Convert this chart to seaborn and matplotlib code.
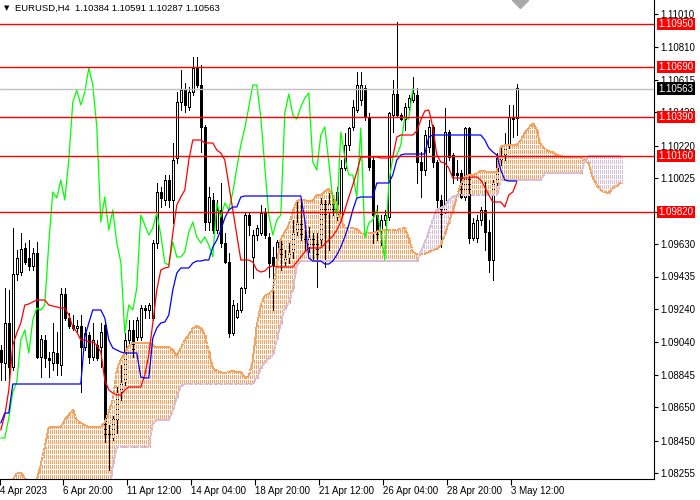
import numpy as np
import matplotlib
matplotlib.use("Agg")
import matplotlib.pyplot as plt
import matplotlib.transforms as mtransforms
from matplotlib.collections import LineCollection
import seaborn as sns

# ---------------- data (EURUSD H4) ----------------
opens = [1.08994,1.08916,1.09156,1.08892,1.09450,1.09462,1.09606,1.09546,1.09498,1.09576,
         1.08952,1.09054,1.08946,1.08916,1.08976,1.08904,1.09330,1.09186,1.09144,1.09126,
         1.09138,1.09012,1.09084,1.08952,1.09024,1.09012,1.09144,1.08514,1.08466,1.08574,
         1.08742,1.08802,1.09054,1.09114,1.09072,1.09072,1.09246,1.09234,1.09186,1.09636,
         1.09942,1.09894,1.10014,1.09894,1.10146,1.10482,1.10554,1.10452,1.10542,1.10686,
         1.10584,1.10332,1.09762,1.09894,1.09714,1.09834,1.09636,1.09522,1.09096,1.09192,
         1.09234,1.09366,1.09804,1.09552,1.09684,1.09696,1.09816,1.09672,1.09552,1.09546,
         1.09642,1.09522,1.09546,1.09582,1.09702,1.09762,1.09672,1.09612,1.09684,1.09642,
         1.09654,1.09876,1.09816,1.09882,1.09792,1.09792,1.10086,1.10224,1.10332,1.10434,
         1.10494,1.10566,1.10392,1.10134,1.09804,1.09714,1.09774,1.09792,1.10404,1.10530,
         1.10404,1.10380,1.10452,1.10494,1.10524,1.10122,1.10074,1.10212,1.10332,1.10122,
         1.09894,1.09822,1.10302,1.10164,1.10056,1.10056,1.09912,1.10326,1.09666,1.09666,
         1.09774,1.09834,1.09702,1.09534,1.09996,1.10134,1.10164,1.10224,1.10392,1.10384]
highs = [1.09024,1.09366,1.09354,1.09726,1.09594,1.09696,1.09636,1.09654,1.09606,1.09642,
         1.09084,1.09084,1.08982,1.09156,1.09102,1.09366,1.09366,1.09216,1.09204,1.09174,
         1.09204,1.09132,1.09102,1.09156,1.09054,1.09156,1.09162,1.08544,1.08598,1.08772,
         1.08904,1.09096,1.09174,1.09174,1.09192,1.09264,1.09264,1.09276,1.09654,1.09996,
         1.09972,1.10044,1.10044,1.10236,1.10542,1.10674,1.10596,1.10572,1.10752,1.10752,
         1.10704,1.10344,1.09972,1.09936,1.09894,1.09996,1.09696,1.09576,1.09294,1.09276,
         1.09372,1.09822,1.09822,1.09714,1.09744,1.09864,1.09846,1.09696,1.09612,1.09654,
         1.09672,1.09594,1.09636,1.09774,1.09882,1.09882,1.09714,1.09732,1.09696,1.09696,
         1.09906,1.09894,1.09936,1.09906,1.09972,1.10134,1.10296,1.10332,1.10494,1.10662,
         1.10662,1.10584,1.10416,1.10152,1.09864,1.09804,1.09834,1.10422,1.10614,1.10962,
         1.10416,1.10476,1.10524,1.10632,1.10566,1.10182,1.10314,1.10374,1.10344,1.10134,
         1.09924,1.10446,1.10314,1.10176,1.10134,1.10074,1.10332,1.10332,1.09786,1.09804,
         1.09852,1.10002,1.09774,1.10014,1.10176,1.10212,1.10296,1.10464,1.10464,1.10591]
lows = [1.08814,1.08814,1.08814,1.08874,1.09414,1.09444,1.09510,1.09474,1.09474,1.08946,
        1.08832,1.08892,1.08832,1.08874,1.08844,1.08844,1.09174,1.09126,1.09114,1.09102,
        1.08742,1.08994,1.08916,1.08934,1.08934,1.08892,1.08442,1.08274,1.08454,1.08496,
        1.08694,1.08784,1.09036,1.08952,1.09054,1.09054,1.09186,1.09186,1.09174,1.09606,
        1.09852,1.09864,1.09852,1.09756,1.10116,1.10434,1.10422,1.10434,1.10524,1.10572,
        1.10182,1.09714,1.09714,1.09696,1.09696,1.09612,1.09516,1.09072,1.09084,1.09186,
        1.09222,1.09336,1.09684,1.09426,1.09654,1.09684,1.09666,1.09432,1.09234,1.09522,
        1.09474,1.09504,1.09516,1.09546,1.09684,1.09654,1.09594,1.09582,1.09534,1.09372,
        1.09624,1.09492,1.09594,1.09804,1.09774,1.09774,1.10074,1.10194,1.10314,1.10422,
        1.10464,1.10374,1.10074,1.09636,1.09654,1.09624,1.09744,1.09774,1.10302,1.10392,
        1.10374,1.10314,1.10434,1.10482,1.09996,1.09912,1.10044,1.10182,1.10092,1.09852,
        1.09612,1.09816,1.10134,1.09996,1.10014,1.09906,1.09894,1.09636,1.09654,1.09642,
        1.09744,1.09594,1.09462,1.09414,1.09984,1.10104,1.10134,1.10206,1.10272,1.10287]
closes = [1.08922,1.09156,1.08892,1.09450,1.09546,1.09600,1.09522,1.09498,1.09576,1.08952,
          1.09060,1.08946,1.08934,1.08982,1.08916,1.09330,1.09186,1.09138,1.09126,1.09138,
          1.09012,1.09096,1.08952,1.09054,1.08946,1.09102,1.08466,1.08466,1.08586,1.08742,
          1.08802,1.09054,1.09114,1.08976,1.09174,1.09246,1.09234,1.09264,1.09636,1.09942,
          1.09906,1.10014,1.09894,1.10134,1.10482,1.10554,1.10464,1.10542,1.10686,1.10584,
          1.10332,1.09762,1.09912,1.09714,1.09834,1.09636,1.09522,1.09096,1.09264,1.09234,
          1.09366,1.09804,1.09744,1.09684,1.09726,1.09816,1.09684,1.09516,1.09504,1.09642,
          1.09552,1.09552,1.09582,1.09702,1.09762,1.09672,1.09636,1.09672,1.09624,1.09552,
          1.09876,1.09792,1.09876,1.09834,1.09942,1.10086,1.10224,1.10326,1.10452,1.10584,
          1.10584,1.10392,1.10092,1.09804,1.09684,1.09774,1.09804,1.10416,1.10530,1.10404,
          1.10380,1.10452,1.10506,1.10536,1.10122,1.10074,1.10284,1.10332,1.10122,1.09894,
          1.09804,1.10302,1.10152,1.10044,1.10044,1.09912,1.10326,1.09666,1.09756,1.09774,
          1.09834,1.09702,1.09534,1.10002,1.10146,1.10164,1.10224,1.10392,1.10380,1.10563]

tenkan = [1.08514,1.08604,1.08754,1.09024,1.09096,1.09156,1.09264,1.09270,1.09282,1.09294,
          1.09294,1.09294,1.09264,1.09258,1.09252,1.09246,1.09246,1.09204,1.09132,1.09102,
          1.09054,1.09054,1.09042,1.09042,1.09024,1.08982,1.08814,1.08754,1.08736,1.08724,
          1.08724,1.08754,1.08772,1.08772,1.08772,1.08772,1.08844,1.08964,1.09156,1.09354,
          1.09474,1.09486,1.09492,1.09696,1.09864,1.09912,1.09954,1.10134,1.10254,1.10254,
          1.10254,1.10236,1.10236,1.10236,1.10194,1.10176,1.10134,1.09984,1.09834,1.09684,
          1.09534,1.09534,1.09534,1.09522,1.09474,1.09462,1.09468,1.09492,1.09498,1.09492,
          1.09492,1.09492,1.09492,1.09492,1.09522,1.09552,1.09582,1.09606,1.09606,1.09606,
          1.09606,1.09630,1.09654,1.09678,1.09714,1.09762,1.09834,1.09912,1.09984,1.10062,
          1.10152,1.10152,1.10152,1.10152,1.10152,1.10146,1.10146,1.10146,1.10152,1.10272,
          1.10284,1.10284,1.10284,1.10284,1.10308,1.10374,1.10428,1.10434,1.10332,1.10164,
          1.10122,1.10116,1.10086,1.10026,1.10026,1.10026,1.10026,1.10026,1.10032,1.10032,
          1.10014,1.09972,1.09924,1.09882,1.09882,1.09882,1.09852,1.09924,1.09942,1.10002]
kijun = [1.08556,1.08616,1.08616,1.08790,1.08790,1.08790,1.08790,1.08790,1.08790,1.08790,
         1.08790,1.08790,1.08790,1.08790,1.08790,1.08790,1.08790,1.08790,1.08790,1.08790,
         1.08790,1.09072,1.09156,1.09234,1.09234,1.09234,1.09186,1.09054,1.09006,1.08994,
         1.08982,1.08976,1.08976,1.08976,1.08976,1.08832,1.08826,1.08826,1.09066,1.09126,
         1.09156,1.09162,1.09204,1.09354,1.09456,1.09486,1.09486,1.09486,1.09516,1.09528,
         1.09528,1.09534,1.09534,1.09612,1.09654,1.09714,1.09786,1.09834,1.09852,1.09852,
         1.09912,1.09918,1.09918,1.09918,1.09918,1.09918,1.09918,1.09918,1.09918,1.09918,
         1.09918,1.09918,1.09918,1.09918,1.09918,1.09918,1.09774,1.09546,1.09528,1.09528,
         1.09528,1.09510,1.09510,1.09528,1.09564,1.09612,1.09672,1.09744,1.09834,1.09906,
         1.09912,1.09912,1.09912,1.09912,1.09996,1.09996,1.09996,1.09996,1.10044,1.10134,
         1.10164,1.10170,1.10170,1.10170,1.10170,1.10170,1.10170,1.10272,1.10284,1.10284,
         1.10284,1.10284,1.10284,1.10284,1.10284,1.10284,1.10284,1.10284,1.10284,1.10284,
         1.10284,1.10254,1.10206,1.10182,1.10164,1.10074,1.10014,1.10008,1.10008,1.10008]
span_a = [1.08154,1.08166,1.08184,1.08214,1.08256,1.08256,1.08226,1.08184,1.08172,1.08214,
          1.08304,1.08412,1.08532,1.08532,1.08532,1.08532,1.08574,1.08604,1.08634,1.08574,
          1.08556,1.08544,1.08532,1.08532,1.08532,1.08532,1.08562,1.08622,1.08694,1.08874,
          1.08934,1.08976,1.09018,1.09036,1.09036,1.09036,1.09036,1.09036,1.09024,1.09012,
          1.09012,1.09012,1.09012,1.08994,1.08958,1.09006,1.09054,1.09084,1.09126,1.09138,
          1.09126,1.09084,1.08982,1.08886,1.08868,1.08862,1.08856,1.08862,1.08868,1.08862,
          1.08862,1.08826,1.08838,1.08934,1.09144,1.09264,1.09318,1.09330,1.09354,1.09504,
          1.09660,1.09702,1.09744,1.09822,1.09888,1.09894,1.09894,1.09888,1.09888,1.09924,
          1.09924,1.09948,1.09960,1.09924,1.09864,1.09786,1.09726,1.09726,1.09726,1.09720,
          1.09696,1.09690,1.09696,1.09696,1.09702,1.09714,1.09714,1.09714,1.09714,1.09714,
          1.09720,1.09726,1.09666,1.09582,1.09570,1.09570,1.09570,1.09582,1.09594,1.09600,
          1.09624,1.09684,1.09756,1.09828,1.09912,1.09984,1.10032,1.10044,1.10044,1.10050,
          1.10068,1.10068,1.10062,1.10062,1.10062,1.10212,1.10224,1.10224,1.10224,1.10224,
          1.10254,1.10296,1.10326,1.10356,1.10314,1.10224,1.10200,1.10188,1.10182,1.10164,
          1.10158,1.10152,1.10152,1.10152,1.10152,1.10152,1.10134,1.10116,1.10026,1.09984,
          1.09954,1.09942,1.09936,1.09966,1.09978,1.09996]
span_b = [1.08094,1.08094,1.08094,1.08094,1.08094,1.08094,1.08094,1.08094,1.08094,1.08094,
          1.08094,1.08094,1.08094,1.08094,1.08094,1.08094,1.08094,1.08094,1.08094,1.08094,
          1.08094,1.08094,1.08094,1.08094,1.08094,1.08094,1.08094,1.08094,1.08304,1.08412,
          1.08412,1.08412,1.08412,1.08412,1.08412,1.08412,1.08412,1.08412,1.08556,1.08574,
          1.08574,1.08574,1.08574,1.08634,1.08712,1.08778,1.08790,1.08790,1.08790,1.08790,
          1.08790,1.08790,1.08790,1.08790,1.08790,1.08790,1.08790,1.08790,1.08790,1.08790,
          1.08790,1.08790,1.08790,1.08790,1.08826,1.08886,1.08922,1.08946,1.08964,1.09054,
          1.09156,1.09246,1.09276,1.09354,1.09504,1.09528,1.09528,1.09528,1.09528,1.09528,
          1.09528,1.09528,1.09528,1.09528,1.09528,1.09528,1.09528,1.09528,1.09528,1.09528,
          1.09528,1.09528,1.09528,1.09528,1.09528,1.09528,1.09528,1.09528,1.09528,1.09528,
          1.09528,1.09528,1.09528,1.09528,1.09528,1.09582,1.09642,1.09702,1.09774,1.09834,
          1.09846,1.09858,1.09894,1.09912,1.09924,1.09924,1.09924,1.09924,1.09924,1.09924,
          1.09924,1.09924,1.09924,1.09924,1.09924,1.10014,1.10014,1.10014,1.10014,1.10014,
          1.10014,1.10014,1.10014,1.10014,1.10014,1.10014,1.10056,1.10056,1.10056,1.10056,
          1.10056,1.10056,1.10056,1.10056,1.10056,1.10056,1.10122,1.10158,1.10158,1.10158,
          1.10158,1.10158,1.10158,1.10158,1.10158,1.10158]

level_prices = [1.10950, 1.10690, 1.10390, 1.10160, 1.09820]
bid_price = 1.10563
y_ticks = [1.11010, 1.10810, 1.10615, 1.10420, 1.10220, 1.10025, 1.09825, 1.09630,
           1.09435, 1.09240, 1.09040, 1.08845, 1.08650, 1.08450, 1.08255]
y_tick_labels = ["1.11010", "1.10810", "1.10615", "1.10420", "1.10220", "1.10025", "",
                 "1.09630", "1.09435", "1.09240", "1.09040", "1.08845", "1.08650",
                 "1.08450", "1.08255"]
x_tick_bars = [-0.1, 15.5, 31.5, 47.5, 63.5, 79.5, 95.5, 111.5, 127.5]
x_tick_labels = ["4 Apr 2023", "6 Apr 20:00", "11 Apr 12:00", "14 Apr 04:00",
                 "18 Apr 20:00", "21 Apr 12:00", "26 Apr 04:00", "28 Apr 20:00",
                 "3 May 12:00"]
title = "EURUSD,H4  1.10384 1.10591 1.10287 1.10563"
chikou_shift = 26

# ---------------- style ----------------
sns.set_style("white")
plt.rcParams['font.family'] = ['Liberation Sans', 'DejaVu Sans']

W, H = 700, 500
fig = plt.figure(figsize=(7, 5), dpi=100)
fig.patch.set_facecolor('white')
ax = fig.add_axes([0, 21 / H, 654 / W, 479 / H])
ax.set_facecolor('white')

YMIN, YMAX = 1.08220, 1.11094
XMIN, XMAX = -0.2, 163.3
ax.set_xlim(XMIN, XMAX)
ax.set_ylim(YMIN, YMAX)

o = np.array(opens); h = np.array(highs); l = np.array(lows); c = np.array(closes)
idx = np.arange(len(c))
up = c >= o

# candles
ax.vlines(idx, l, h, color='black', lw=0.6, zorder=2, antialiased=False)
bb = np.minimum(o, c)
bh = np.maximum(np.abs(c - o), 0.00003)
ax.bar(idx[up], bh[up], bottom=bb[up], width=0.5, color='white',
       edgecolor='black', linewidth=0.6, zorder=2.1, antialiased=False)
ax.bar(idx[~up], bh[~up], bottom=bb[~up], width=0.5, color='black',
       edgecolor='black', linewidth=0.6, zorder=2.1, antialiased=False)

# cloud hatch (dotted columns)
A = np.array(span_a); B = np.array(span_b)
kk = np.arange(len(A))
pxs = 479 / (YMAX - YMIN)
segs, styles, cols = [], [], []
for k in kk:
    top = max(A[k], B[k]); bot = min(A[k], B[k])
    col = '#F4A460' if A[k] >= B[k] else '#D8BFD8'
    off = ((YMAX - top) * pxs) % 5
    for dx in (-0.25, 0.25):
        segs.append([(k + dx, top), (k + dx, bot)])
        styles.append((off, (3, 2)))
        cols.append(col)
lc = LineCollection(segs, colors=cols, linestyles=styles, linewidths=0.72,
                    antialiased=False, zorder=3)
ax.add_collection(lc)
ax.plot(kk, A, color='#F4A460', lw=0.72, ls=(0, (3, 2)), zorder=3.1, antialiased=False)
ax.plot(kk, B, color='#D8BFD8', lw=0.72, ls=(0, (3, 2)), zorder=3.1, antialiased=False)

# ichimoku lines
n_ch = len(c) - chikou_shift
sns.lineplot(x=idx[:n_ch], y=c[chikou_shift:], color='#00FF00', lw=0.9, ax=ax,
             estimator=None, sort=False, legend=False, zorder=4)
sns.lineplot(x=idx, y=np.array(tenkan), color='#FF0000', lw=0.9, ax=ax,
             estimator=None, sort=False, legend=False, zorder=4.1)
sns.lineplot(x=idx, y=np.array(kijun), color='#0000FF', lw=0.9, ax=ax,
             estimator=None, sort=False, legend=False, zorder=4.2)

# levels
ax.axhline(bid_price, color='#C0C0C0', lw=1.0, zorder=4.5)
for v in level_prices:
    ax.axhline(v, color='#FF0000', lw=1.0, zorder=5)

ax.set_xlim(XMIN, XMAX)
ax.set_ylim(YMIN, YMAX)
ax.set_xlabel(''); ax.set_ylabel('')

# spines
for s in ['top', 'left']:
    ax.spines[s].set_visible(False)
for s in ['right', 'bottom']:
    ax.spines[s].set_visible(True)
    ax.spines[s].set_color('black')
    ax.spines[s].set_linewidth(0.8)

ax.yaxis.tick_right()
ax.set_yticks(y_ticks)
ax.set_yticklabels(y_tick_labels)
ax.tick_params(axis='y', which='both', left=False, right=True, labelleft=False,
               labelright=True, direction='out', length=3, width=0.8, pad=1.5,
               labelsize=7, colors='black')
ax.set_xticks(x_tick_bars)
ax.set_xticklabels(x_tick_labels)
for t in ax.get_xticklabels():
    t.set_horizontalalignment('left')
ax.tick_params(axis='x', which='both', bottom=True, top=False, direction='out',
               length=4, width=0.8, pad=1, labelsize=7, colors='black')

# price labels on the axis
trans = mtransforms.blended_transform_factory(ax.transAxes, ax.transData)
xl = 1 + 4.5 / 654
for v in level_prices:
    ax.text(xl, v, f"{v:.5f}", transform=trans, ha='left', va='center', color='white',
            fontsize=7, clip_on=False, zorder=10,
            bbox=dict(boxstyle='square,pad=0.12', fc='#FF0000', ec='none'))
ax.text(xl, bid_price, f"{bid_price:.5f}", transform=trans, ha='left', va='center',
        color='white', fontsize=7, clip_on=False, zorder=10,
        bbox=dict(boxstyle='square,pad=0.12', fc='black', ec='none'))

# header
fig.text(4 / W, 1 - 8 / H, '▼', fontsize=5, va='center', ha='left', color='black',
         family=['DejaVu Sans'])
fig.text(15 / W, 1 - 8 / H, title, fontsize=6.8, va='center', ha='left', color='black')
ax.plot([520 / 654], [1.0], marker='D', ms=8, color='#A9A9A9', transform=ax.transAxes,
        clip_on=True, zorder=6)

fig.savefig('out.png', dpi=100)
